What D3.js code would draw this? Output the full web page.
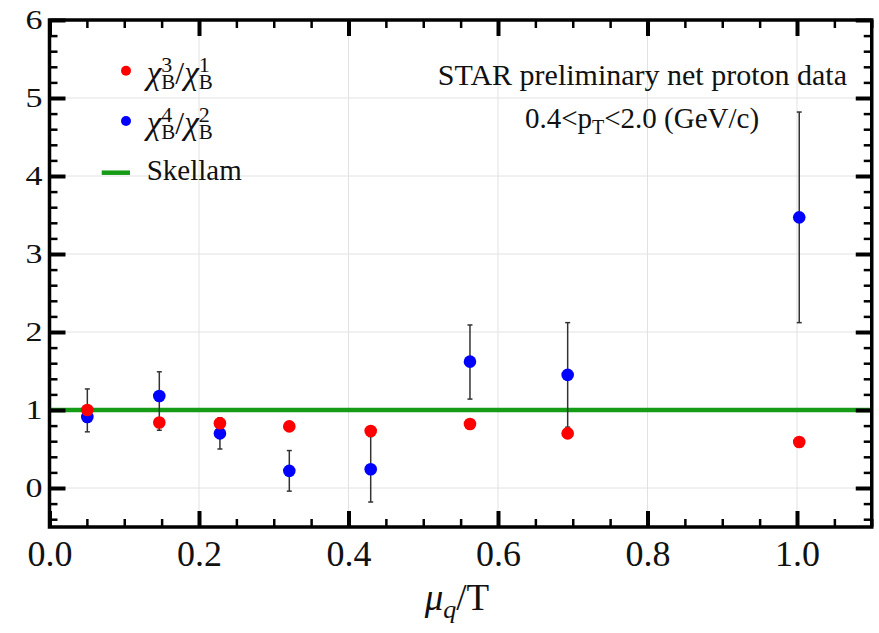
<!DOCTYPE html>
<html>
<head>
<meta charset="utf-8">
<script src="https://cdn.jsdelivr.net/npm/d3@7"></script>
<style>
  body { margin: 0; background: #fff; }
</style>
</head>
<body>
<div id="vis"></div>
<script>
// values
const muT      = [0.0506, 0.1469, 0.228, 0.3208, 0.4297, 0.5625, 0.6932, 1.003];
const ratio31  = [1.00, 0.84, 0.83, 0.79, 0.73, 0.82, 0.70, 0.59];
const ratio42  = [0.91, 1.18, 0.70, 0.22, 0.24, 1.62, 1.45, 3.47];
const err42Low = [0.72, 0.74, 0.50, -0.04, -0.18, 1.14, 0.78, 2.12];
const err42Up  = [1.27, 1.49, 0.90, 0.48, 0.66, 2.09, 2.12, 4.82];
const skellam  = 1;

const xMajor = [0, 0.2, 0.4, 0.6, 0.8, 1.0];
const xMinor = d3.range(0, 1.1001, 0.05);
const yMajor = [0, 1, 2, 3, 4, 5, 6];
const yMinor = d3.range(-0.4, 6.001, 0.2);

const width = 879;
const height = 633;
const margin = {left: 49.5, right: 7.25, top: 20, bottom: 106};
const font = "'Liberation Serif', 'Times New Roman', serif";

const x = d3.scaleLinear()
        .domain([0, 1.1])
        .range([margin.left, width - margin.right]);
const y = d3.scaleLinear()
        .domain([-0.5, 6])
        .range([height - margin.bottom, margin.top]);

const svg = d3.select("#vis")
        .append("svg")
        .attr("width", width)
        .attr("height", height)
        .style("font-family", font);

svg.append("rect").attr("width", width).attr("height", height).attr("fill", "#fff");

// grid
svg.append("g")
        .selectAll("line")
        .data(xMajor.filter(d => d > 0))
        .join("line")
        .attr("x1", d => x(d)).attr("x2", d => x(d))
        .attr("y1", y(6)).attr("y2", y(-0.5))
        .attr("stroke", "#e2e2e2").attr("stroke-width", 1);
svg.append("g")
        .selectAll("line")
        .data(yMajor)
        .join("line")
        .attr("x1", x(0)).attr("x2", x(1.1))
        .attr("y1", d => y(d)).attr("y2", d => y(d))
        .attr("stroke", "#e2e2e2").attr("stroke-width", 1);

// skellam baseline
svg.append("line")
        .attr("x1", x(0)).attr("x2", x(1.1))
        .attr("y1", y(skellam)).attr("y2", y(skellam))
        .attr("stroke", "#169b16")
        .attr("stroke-width", 4.5);

// error bars on chi4/chi2
const bars = svg.append("g").attr("stroke", "#333").attr("stroke-width", 1.5);
muT.forEach((m, i) => {
  bars.append("line")
          .attr("x1", x(m)).attr("x2", x(m))
          .attr("y1", y(err42Low[i])).attr("y2", y(err42Up[i]));
  [err42Low[i], err42Up[i]].forEach(v => {
    bars.append("line")
            .attr("x1", x(m) - 2.5).attr("x2", x(m) + 2.5)
            .attr("y1", y(v)).attr("y2", y(v));
  });
});

svg.append("g")
        .selectAll("circle")
        .data(muT)
        .join("circle")
        .attr("cx", d => x(d))
        .attr("cy", (d, i) => y(ratio42[i]))
        .attr("r", 6.3)
        .attr("fill", "#0000ff");

svg.append("g")
        .selectAll("circle")
        .data(muT)
        .join("circle")
        .attr("cx", d => x(d))
        .attr("cy", (d, i) => y(ratio31[i]))
        .attr("r", 6.3)
        .attr("fill", "#ff0000");

// frame ticks, all pointing inward
function ticks(axis, tx, ty, vals, size, sw, fmt) {
  const g = svg.append("g")
          .attr("transform", "translate(" + tx + "," + ty + ")")
          .call(axis.tickValues(vals).tickSize(-size).tickFormat(fmt || ""));
  g.select(".domain").remove();
  g.selectAll("line").attr("stroke", "#000").attr("stroke-width", sw);
  return g;
}

const bottom = ticks(d3.axisBottom(x).tickPadding(13), 0, y(-0.5), xMajor, 16, 4, d3.format(".1f"));
bottom.selectAll("text")
        .attr("font-family", font)
        .attr("font-size", 36)
        .attr("fill", "#111");
ticks(d3.axisBottom(x), 0, y(-0.5), xMinor, 8, 2.5);
ticks(d3.axisTop(x), 0, y(6), xMajor, 16, 4);
ticks(d3.axisTop(x), 0, y(6), xMinor, 8, 2.5);

const left = ticks(d3.axisLeft(y).tickPadding(7), x(0), 0, yMajor, 16, 4, d3.format("d"));
left.selectAll("text")
        .attr("font-family", font)
        .attr("font-size", 27)
        .attr("fill", "#111")
        .attr("textLength", 17)
        .attr("lengthAdjust", "spacingAndGlyphs");
ticks(d3.axisLeft(y), x(0), 0, yMinor, 8, 2.5);
ticks(d3.axisRight(y), x(1.1), 0, yMajor, 16, 4);
ticks(d3.axisRight(y), x(1.1), 0, yMinor, 8, 2.5);

svg.append("rect")
        .attr("x", x(0)).attr("y", y(6))
        .attr("width", x(1.1) - x(0))
        .attr("height", y(-0.5) - y(6))
        .attr("fill", "none")
        .attr("stroke", "#000")
        .attr("stroke-width", 3.5);

// one text element of tspans; a "hold" piece lets the next one stack under it
function richText(g, x0, y0, parts) {
  const t = g.append("text").attr("fill", "#111");
  let cx = x0, hold = null;
  parts.forEach(p => {
    const s = t.append("tspan")
            .attr("x", cx)
            .attr("y", y0 + (p.dy || 0))
            .attr("font-size", p.size)
            .attr("font-style", p.italic ? "italic" : "normal")
            .text(p.t);
    const w = s.node().getComputedTextLength();
    if (p.hold) hold = {x: cx, w: w};
    else if (hold) { cx = hold.x + Math.max(hold.w, w); hold = null; }
    else cx += w;
  });
  return {text: t, width: cx - x0};
}

function chiRatio(num, den) {
  return [
    {t: "χ", size: 33, italic: true},
    {t: num, size: 22, dy: -12, hold: true},
    {t: "B", size: 21, dy: 5},
    {t: "/", size: 32},
    {t: "χ", size: 33, italic: true},
    {t: den, size: 22, dy: -12, hold: true},
    {t: "B", size: 21, dy: 5}
  ];
}

// legend
const legend = svg.append("g");
legend.append("circle").attr("cx", 126).attr("cy", 70.7).attr("r", 5).attr("fill", "#ff0000");
richText(legend, 146.7, 84, chiRatio("3", "1"));
legend.append("circle").attr("cx", 126).attr("cy", 121).attr("r", 5).attr("fill", "#0000ff");
richText(legend, 146.7, 134, chiRatio("4", "2"));
legend.append("line")
        .attr("x1", 101.7).attr("x2", 130)
        .attr("y1", 172.7).attr("y2", 172.7)
        .attr("stroke", "#169b16").attr("stroke-width", 4.5);
legend.append("text")
        .attr("x", 146.7).attr("y", 180)
        .attr("font-size", 29)
        .attr("fill", "#111")
        .text("Skellam");

// annotation
svg.append("text")
        .attr("x", 847).attr("y", 85)
        .attr("text-anchor", "end")
        .attr("font-size", 30)
        .attr("fill", "#111")
        .text("STAR preliminary net proton data");

const note = svg.append("text")
        .attr("x", 642).attr("y", 128)
        .attr("text-anchor", "middle")
        .attr("font-size", 29)
        .attr("fill", "#111");
note.append("tspan").text("0.4<p");
note.append("tspan").attr("font-size", 20).attr("dy", 6).text("T");
note.append("tspan").attr("dy", -6).text("<2.0 (GeV/c)");

// x axis title
const title = svg.append("g");
const tt = richText(title, 0, 610, [
  {t: "μ", size: 37, italic: true},
  {t: "q", size: 26, italic: true, dy: 8},
  {t: "/T", size: 37}
]);
title.attr("transform", "translate(" + (457 - tt.width / 2) + ",0)");
</script>
</body>
</html>
